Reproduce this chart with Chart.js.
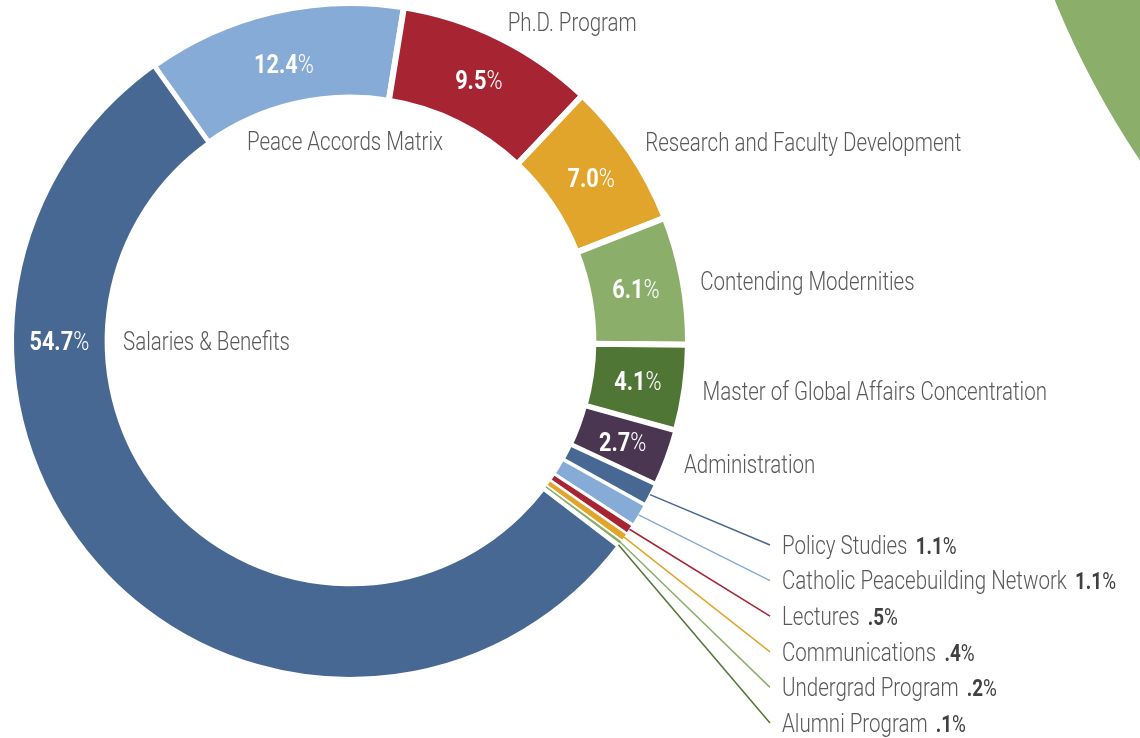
<!DOCTYPE html>
<html><head><meta charset="utf-8">
<script src="https://cdn.jsdelivr.net/npm/chart.js@4.4.1/dist/chart.umd.min.js"></script>
<style>html,body{margin:0;padding:0;background:#fff;overflow:hidden}</style>
</head><body><canvas id="c" width="1140" height="738"></canvas>
<script>
// ---- data ----
const categories = ["Peace Accords Matrix","Ph.D. Program","Research and Faculty Development","Contending Modernities","Master of Global Affairs Concentration","Administration","Policy Studies","Catholic Peacebuilding Network","Lectures","Communications","Undergrad Program","Alumni Program","Salaries & Benefits"];
const shares = [12.4, 9.5, 7.0, 6.1, 4.1, 2.7, 1.1, 1.1, 0.5, 0.4, 0.2, 0.1, 54.7];
const valueNumbers = ["12.4","9.5","7.0","6.1","4.1","2.7","1.1","1.1",".5",".4",".2",".1","54.7"];
// label kind: 'outer' = name outside ring, 'inner' = name inside hole, 'callout' = leader line list
const labelKinds = ["inner","outer","outer","outer","outer","outer","callout","callout","callout","callout","callout","callout","inner"];

// ---- styles ----
const colors = ["#87ABD7","#A72532","#E2A52B","#8BAF6A","#4F7634","#4A3651","#476892","#87ABD7","#A72532","#E2A52B","#8BAF6A","#4F7634","#476892"];
const gapWidths = [6,6,6,6,6,5,4,3,3,2,1.5,1.5,4];
const FONT = "Roboto, 'Liberation Sans', sans-serif";
const SX = 0.82;         // horizontal condensing of name text
const SX_PCT = 0.87;     // horizontal condensing of percentage text
const NAME_SIZE = 25;
const PCT_SIZE = 25;
const VAL_SIZE = 23;
const GREY = "#595959";
const DARK = "#404040";
const innerNameAnchors = {0:{x:247,y:141.5}, 12:{x:123,y:341}};
const outerNameShift = {3: 4};
const callout = {textX:782, lineX:770, firstY:545, step:35.6};

function drawParts(ctx, parts, x, cy, align, sxv){
  const sx = sxv || SX;
  ctx.save();
  ctx.textBaseline = "alphabetic";
  ctx.textAlign = "left";
  let total = 0, maxSize = 0;
  parts.forEach(p => { ctx.font = p.font; p.w = ctx.measureText(p.text).width + (p.gap||0); total += p.w; maxSize = Math.max(maxSize, p.size); });
  total *= sx;
  let x0 = align === "center" ? x - total/2 : (align === "right" ? x - total : x);
  const base = cy + 0.3555*maxSize;
  ctx.translate(x0, base);
  ctx.scale(sx, 1);
  let cx = 0;
  parts.forEach(p => { ctx.font = p.font; ctx.fillStyle = p.color; ctx.fillText(p.text, cx, 0); cx += p.w; });
  ctx.restore();
}

const decoPlugin = {
  id: "deco",
  beforeDraw(chart){
    const ctx = chart.ctx;
    ctx.save();
    ctx.fillStyle = "#fff";
    ctx.fillRect(0,0,chart.width,chart.height);
    ctx.beginPath();
    ctx.arc(1888, -340, 900, 0, Math.PI*2);
    ctx.fillStyle = "#8BAF6A";
    ctx.fill();
    ctx.restore();
  }
};

const labelPlugin = {
  id: "labels",
  afterDatasetsDraw(chart){
    const ctx = chart.ctx;
    const meta = chart.getDatasetMeta(0);
    let k = 0;
    meta.data.forEach((arc, i) => {
      const p = arc.getProps(["x","y","startAngle","endAngle","innerRadius","outerRadius"], true);
      const mid = (p.startAngle + p.endAngle)/2;
      const kind = labelKinds[i];
      if (kind === "callout"){
        const y = callout.firstY + callout.step*k; k++;
        const sx = p.x + Math.cos(mid)*(p.outerRadius - 1);
        const sy = p.y + Math.sin(mid)*(p.outerRadius - 1);
        ctx.save();
        ctx.strokeStyle = colors[i];
        ctx.lineWidth = 1.5;
        ctx.beginPath(); ctx.moveTo(sx, sy); ctx.lineTo(callout.lineX, y); ctx.stroke();
        ctx.restore();
        drawParts(ctx, [
          {text: categories[i], font: `300 ${NAME_SIZE}px ${FONT}`, size: NAME_SIZE, color: GREY, gap: 10},
          {text: valueNumbers[i], font: `700 ${VAL_SIZE}px ${FONT}`, size: VAL_SIZE, color: DARK},
          {text: "%", font: `400 ${VAL_SIZE}px ${FONT}`, size: VAL_SIZE, color: DARK}
        ], callout.textX, y, "left");
        return;
      }
      // percentage inside the segment
      let pa = mid;
      if (i === 12) pa = Math.PI; // large slice: label at left side
      const mr = (p.innerRadius + p.outerRadius)/2;
      const px = p.x + Math.cos(pa)*mr;
      const py = p.y + Math.sin(pa)*mr + (i === 0 ? 6 : 0);
      drawParts(ctx, [
        {text: valueNumbers[i], font: `700 ${PCT_SIZE}px ${FONT}`, size: PCT_SIZE, color: "#fff"},
        {text: "%", font: `300 ${PCT_SIZE}px ${FONT}`, size: PCT_SIZE, color: "#fff"}
      ], px, py, "center", SX_PCT);
      if (kind === "outer"){
        const r = p.outerRadius + 18;
        drawParts(ctx, [{text: categories[i], font: `300 ${NAME_SIZE}px ${FONT}`, size: NAME_SIZE, color: GREY}],
          p.x + Math.cos(mid)*r, p.y + Math.sin(mid)*r + (outerNameShift[i]||0), "left");
      } else {
        const a = innerNameAnchors[i];
        drawParts(ctx, [{text: categories[i], font: `300 ${NAME_SIZE}px ${FONT}`, size: NAME_SIZE, color: GREY}], a.x, a.y, "left");
      }
    });
  }
};

new Chart(document.getElementById("c"), {
  type: "doughnut",
  data: { labels: categories, datasets: [{ data: shares, backgroundColor: colors, borderColor: "#fff", borderWidth: gapWidths }] },
  options: {
    responsive: false, animation: false, events: [],
    rotation: -35.5, cutout: "72%", radius: 338,
    layout: { padding: { left: 0, right: 440, top: 0, bottom: 56 } },
    plugins: { legend: { display: false }, tooltip: { enabled: false } }
  },
  plugins: [decoPlugin, labelPlugin]
});
</script></body></html>
